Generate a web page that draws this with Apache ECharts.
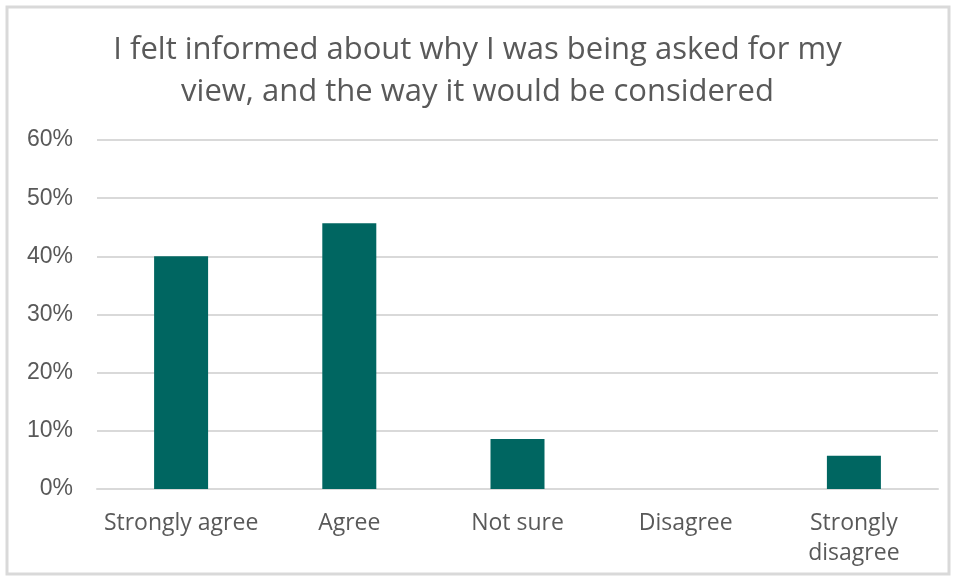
<!DOCTYPE html>
<html>
<head>
<meta charset="utf-8">
<script src="https://cdn.jsdelivr.net/npm/echarts@6/dist/echarts.min.js"></script>
<style>
html,body{margin:0;padding:0;background:#fff;}
#c{width:955px;height:577px;}
</style>
</head>
<body>
<div id="c"></div>
<script>
const titleText = 'I felt informed about why I was being asked for my\nview, and the way it would be considered';
const categories = ['Strongly agree', 'Agree', 'Not sure', 'Disagree', 'Strongly\ndisagree'];
const values = [40.0, 45.7, 8.6, 0, 5.7];
const yTicks = [0, 10, 20, 30, 40, 50, 60];

const chart = echarts.init(document.getElementById('c'));
chart.setOption({
  animation: false,
  backgroundColor: '#fff',
  graphic: [{
    type: 'rect',
    shape: { x: 7, y: 7, width: 942, height: 567 },
    style: { fill: 'none', stroke: '#d9d9d9', lineWidth: 3 },
    silent: true
  }],
  title: {
    text: titleText,
    left: 'center',
    top: 24,
    textStyle: {
      fontFamily: 'Open Sans',
      fontWeight: 'normal',
      fontSize: 31,
      color: '#595959',
      lineHeight: 42
    }
  },
  grid: { left: 97, right: 17, top: 140, bottom: 88, containLabel: false },
  xAxis: {
    type: 'category',
    data: categories,
    axisLine: { show: true, lineStyle: { color: '#d9d9d9', width: 2 } },
    axisTick: { show: false },
    axisLabel: {
      fontFamily: 'Open Sans',
      fontSize: 23,
      color: '#595959',
      margin: 19,
      lineHeight: 30,
      interval: 0
    }
  },
  yAxis: {
    type: 'value',
    min: yTicks[0],
    max: yTicks[yTicks.length - 1],
    interval: 10,
    axisLine: { show: false },
    axisTick: { show: false },
    splitLine: { lineStyle: { color: '#d9d9d9', width: 2 } },
    axisLabel: {
      fontFamily: 'Liberation Sans',
      fontSize: 23,
      color: '#595959',
      margin: 24,
      formatter: v => v + '%'
    }
  },
  series: [{
    type: 'bar',
    data: values,
    barWidth: 54,
    itemStyle: { color: '#006661' }
  }]
});
</script>
</body>
</html>
